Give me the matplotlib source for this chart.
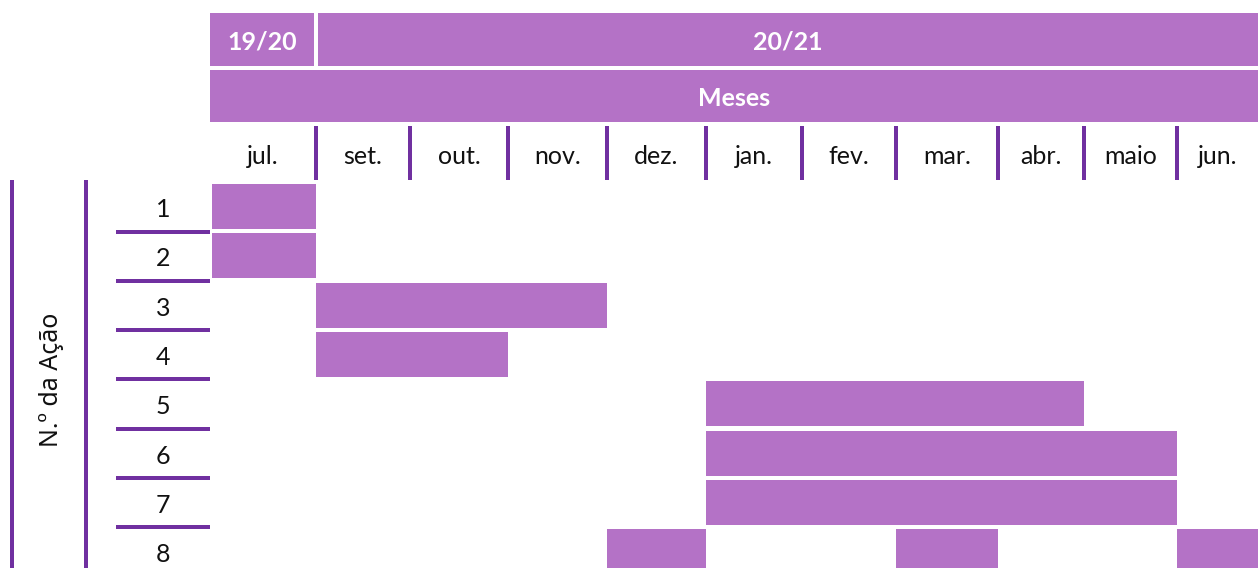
#%% Libraries
"""
Gantt-style schedule of actions per month (school years 19/20 and 20/21)
"""
import numpy as np
import matplotlib.pyplot as plt
from matplotlib.patches import Rectangle

plt.rcParams['font.family'] = ['Lato', 'DejaVu Sans']

#%% Data
months = ['jul.', 'set.', 'out.', 'nov.', 'dez.', 'jan.', 'fev.', 'mar.', 'abr.', 'maio', 'jun.']
actions = [1, 2, 3, 4, 5, 6, 7, 8]
years = ['19/20', '20/21']
year_first = ['jul.', 'set.']
year_last = ['jul.', 'jun.']
header_label = 'Meses'
row_title = 'N.º da Ação'

# one entry per bar: action number, first month, last month (inclusive)
task_action = [1, 2, 3, 4, 5, 6, 7, 8, 8, 8]
task_start = ['jul.', 'jul.', 'set.', 'set.', 'jan.', 'jan.', 'jan.', 'dez.', 'mar.', 'jun.']
task_end = ['jul.', 'jul.', 'nov.', 'out.', 'abr.', 'maio', 'maio', 'dez.', 'mar.', 'jun.']

#%% Layout (pixels)
W, H = 1258, 568
col_edges = np.array([210, 316, 410, 508, 607, 706, 802, 896, 998, 1084, 1177, 1258])
row_top0, row_pitch, bar_h = 184, 49.3, 45
fill = '#B472C6'
line = '#7030A0'
fs = 18
lw = 4 * 72 / 100  # 4 px

fig = plt.figure(figsize=(W / 100, H / 100), dpi=100)
ax = fig.add_axes([0, 0, 1, 1])
ax.set_xlim(0, W)
ax.set_ylim(H, 0)
ax.axis('off')

# year header
for yr, a, b in zip(years, year_first, year_last):
    x0 = col_edges[months.index(a)]
    x1 = col_edges[months.index(b) + 1]
    if x0 > col_edges[0]:
        x0 += 2
    else:
        x1 -= 2
    ax.add_patch(Rectangle((x0, 13), x1 - x0, 53, color=fill, lw=0))
    ax.text((x0 + x1) / 2, 42, yr, ha='center', va='center', color='white',
            fontsize=fs, fontweight='bold')

# months header
ax.add_patch(Rectangle((col_edges[0], 70), col_edges[-1] - col_edges[0], 52, color=fill, lw=0))
ax.text((col_edges[0] + col_edges[-1]) / 2, 99, header_label, ha='center', va='center',
        color='white', fontsize=fs, fontweight='bold')

# month labels and separators
centers = (col_edges[:-1] + col_edges[1:]) / 2
for m, cx in zip(months, centers):
    ax.text(cx, 156, m, ha='center', va='center', fontsize=fs, color='#111111')
ax.vlines(col_edges[1:-1], 126, 180, color=line, lw=lw, capstyle='butt')

# action labels and separators
row_c = row_top0 + np.arange(len(actions)) * row_pitch + bar_h / 2
for a, cy in zip(actions, row_c):
    ax.text(163, cy + 3, str(a), ha='center', va='center', fontsize=fs, color='#111111')
ax.hlines(row_c[:-1] + bar_h / 2 + 2.5, 116, 210, color=line, lw=lw, capstyle='butt')

# left frame lines and title
ax.vlines([12, 86], 180, H, color=line, lw=lw, capstyle='butt')
ax.text(52, 380, row_title, rotation=90, ha='center', va='center', fontsize=fs,
        color='#111111', family=['Noto Sans', 'DejaVu Sans'])

# bars
for act, s, e in zip(task_action, task_start, task_end):
    x0 = col_edges[months.index(s)]
    x1 = col_edges[months.index(e) + 1]
    if x0 == col_edges[0]:
        x0 += 2
    cy = row_c[actions.index(act)]
    ax.barh(cy, x1 - x0, left=x0, height=bar_h, color=fill, lw=0)

fig.savefig('out.png', dpi=100, facecolor='w')
